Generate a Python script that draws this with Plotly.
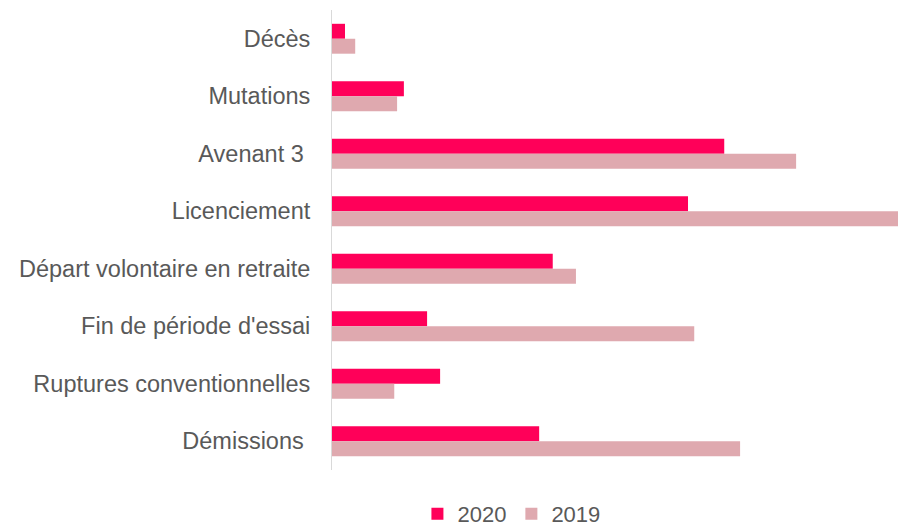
import plotly.graph_objects as go

categories = ["Décès", "Mutations", "Avenant 3\u00a0", "Licenciement",
              "Départ volontaire en retraite", "Fin de période d'essai",
              "Ruptures conventionnelles", "Démissions\u00a0"]
values_2020 = [2.3, 12.7, 69.3, 62.9, 39.0, 16.8, 19.1, 36.6]
values_2019 = [4.1, 11.5, 82.0, 100.0, 43.1, 64.0, 11.0, 72.1]

fig = go.Figure()
fig.add_trace(go.Bar(y=categories, x=values_2020, name="2020", orientation="h",
                     marker=dict(color="#FF0059", line=dict(width=0))))
fig.add_trace(go.Bar(y=categories, x=values_2019, name="2019", orientation="h",
                     marker=dict(color="#DFA9AF", line=dict(width=0))))

fig.update_layout(
    width=898, height=530,
    margin=dict(l=332, r=0, t=10, b=60, autoexpand=False),
    plot_bgcolor="white", paper_bgcolor="white",
    barmode="group", bargap=0.48, bargroupgap=0,
    font=dict(family="Liberation Sans, Arial, sans-serif", size=23.5, color="#595959"),
    showlegend=True,
    legend=dict(orientation="h", x=0.317, xanchor="center", y=-0.05, yanchor="top",
                font=dict(size=22, color="#595959"), itemwidth=30, traceorder="normal",
                tracegroupgap=0),
    xaxis=dict(range=[0, 100], showgrid=False, showticklabels=False, zeroline=False,
               showline=False, fixedrange=True),
    yaxis=dict(autorange="reversed", showgrid=False, showline=True, linecolor="#D9D9D9",
               linewidth=1, ticks="outside", ticklen=16, tickcolor="rgba(0,0,0,0)",
               tickfont=dict(size=23.5, color="#595959"), fixedrange=True),
)
fig.write_html("out.html", config={"displayModeBar": False},
               post_script="document.body.style.margin='0';document.body.style.overflow='hidden';")
